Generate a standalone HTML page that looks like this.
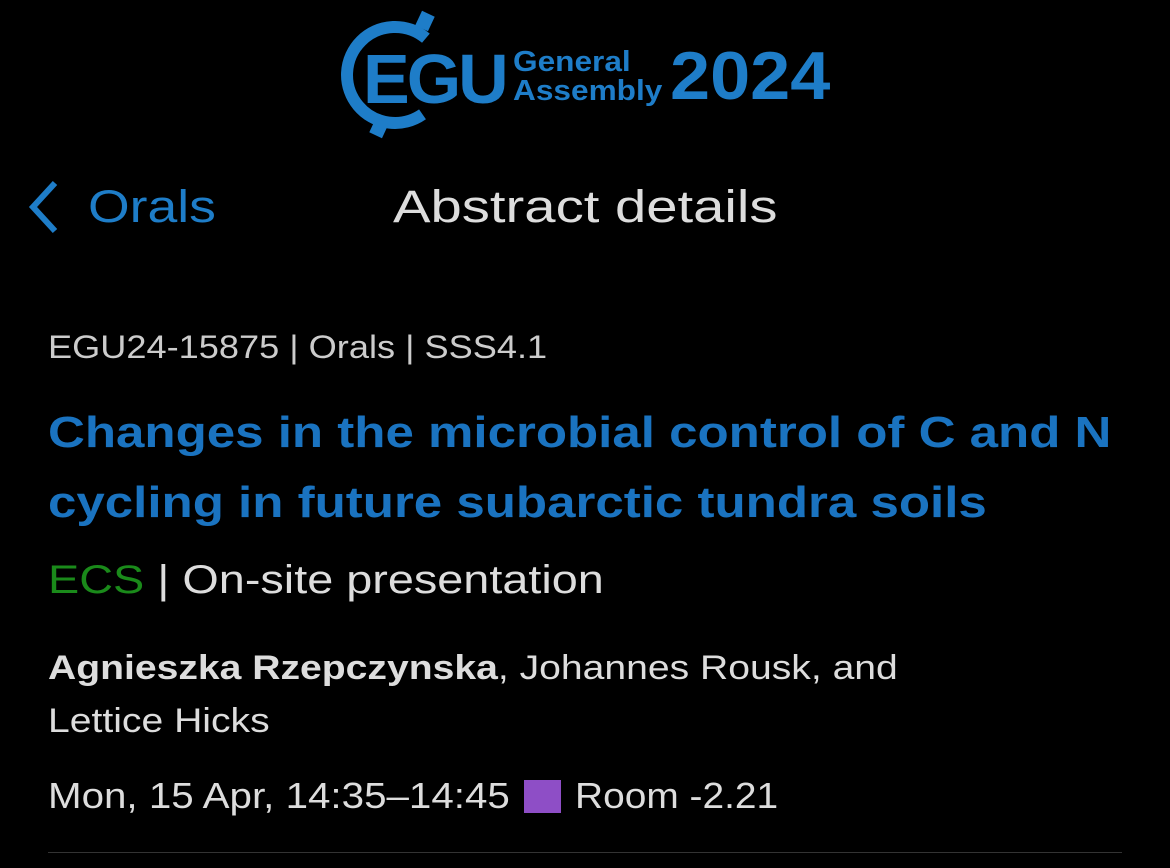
<!DOCTYPE html>
<html><head><meta charset="utf-8"><style>
body{margin:0;width:1170px;height:868px;background:#000;overflow:hidden;font-family:"Liberation Sans",sans-serif;position:relative}
.a{position:absolute;white-space:nowrap;line-height:1;transform-origin:0 0}
</style></head><body>
<div>
<svg class="a" style="left:330px;top:0" width="520" height="150">
<path d="M 95.9 38.2 A 48 48 0 1 0 92.5 114.3" fill="none" stroke="#1e7dc8" stroke-width="12"/>
<rect x="88" y="13" width="14" height="16" fill="#1e7dc8" transform="rotate(25 95 21)"/>
<rect x="42" y="120" width="14" height="16" fill="#1e7dc8" transform="rotate(25 49 128)"/>
</svg>
<div class="a" style="left:363px;top:44px;font-size:70px;font-weight:bold;color:#1e7dc8;letter-spacing:-3px">EGU</div>
<div class="a" style="left:513px;top:48px;font-size:29px;font-weight:bold;color:#1e7dc8;line-height:29px;transform:scaleX(1.09)">General<br>Assembly</div>
<div class="a" style="left:670px;top:42px;font-size:68px;font-weight:bold;color:#1e7dc8;transform:scaleX(1.06)">2024</div>
</div>
<svg class="a" style="left:25px;top:178px" width="40" height="58"><path d="M30 5 L8 29 L30 53" fill="none" stroke="#1e7dc8" stroke-width="6"/></svg>
<div class="a" style="left:88px;top:184px;font-size:45px;color:#1e7dc8;transform:scaleX(1.19)">Orals</div>
<div class="a" style="left:393px;top:184px;font-size:45px;color:#ddd;transform:scaleX(1.25)">Abstract details</div>
<div class="a" style="left:48px;top:331px;font-size:32px;color:#ccc;transform:scaleX(1.13)">EGU24-15875 | Orals | SSS4.1</div>
<div class="a" style="left:48px;top:398px;font-size:44px;font-weight:bold;color:#1a73c0;line-height:70px;transform:scaleX(1.16)">Changes in the microbial control of C and N<br>cycling in future subarctic tundra soils</div>
<div class="a" style="left:48px;top:560px;font-size:40px;color:#ddd;transform:scaleX(1.17)"><span style="color:#1a8a1a">ECS</span> | On-site presentation</div>
<div class="a" style="left:48px;top:642px;font-size:34px;color:#ddd;line-height:53px;transform:scaleX(1.15)"><b>Agnieszka Rzepczynska</b>, Johannes Rousk, and<br>Lettice Hicks</div>
<div class="a" style="left:48px;top:778px;font-size:36px;color:#ddd;transform:scaleX(1.12)">Mon, 15 Apr, 14:35–14:45</div>
<div class="a" style="left:524px;top:780px;width:37px;height:33px;background:#8e4ec6"></div>
<div class="a" style="left:575px;top:778px;font-size:36px;color:#ddd;transform:scaleX(1.08)">Room -2.21</div>
<div class="a" style="left:48px;top:852px;width:1074px;height:1px;background:#333"></div>
</body></html>
